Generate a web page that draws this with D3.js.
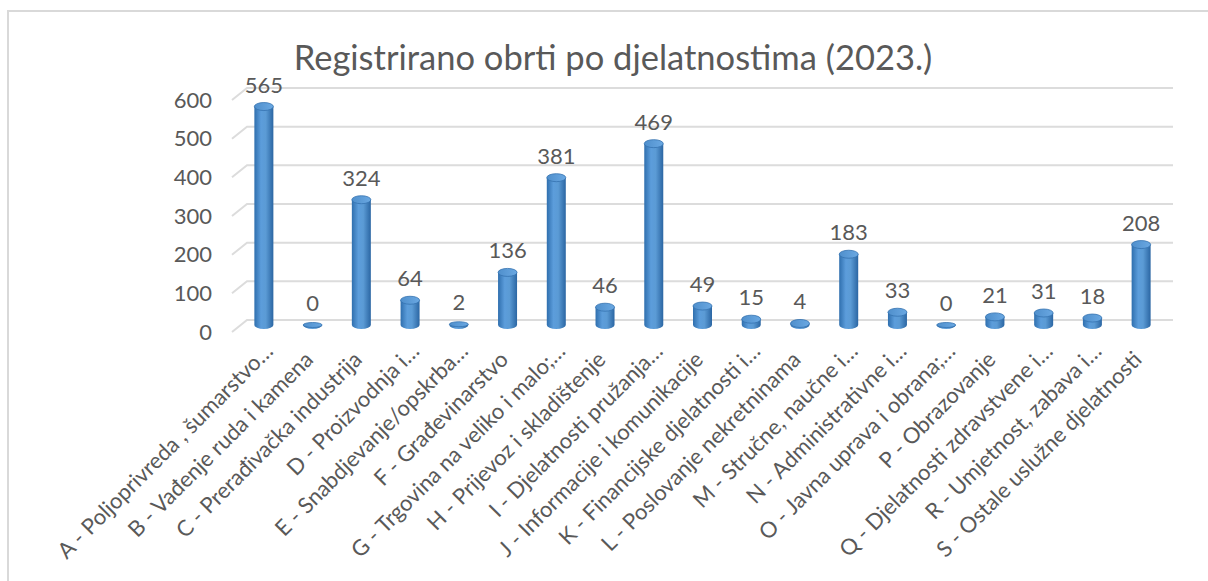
<!DOCTYPE html>
<html>
<head>
<meta charset="utf-8">
<script src="https://cdn.jsdelivr.net/npm/d3@7"></script>
<style>
  body { margin: 0; background: #fff; }
  text { font-family: Lato, "Open Sans", sans-serif; fill: #595959; }
</style>
</head>
<body>
<div id="chart"></div>
<script>
// Data
const categories = [
  "A - Poljoprivreda , šumarstvo…",
  "B - Vađenje ruda i kamena",
  "C - Prerađivačka industrija",
  "D - Proizvodnja i…",
  "E - Snabdjevanje/opskrba…",
  "F - Građevinarstvo",
  "G - Trgovina na veliko i malo;…",
  "H - Prijevoz i skladištenje",
  "I - Djelatnosti pružanja…",
  "J - Informacije i komunikacije",
  "K - Financijske djelatnosti i…",
  "L - Poslovanje nekretninama",
  "M - Stručne, naučne i…",
  "N - Administrativne i…",
  "O - Javna uprava i obrana;…",
  "P - Obrazovanje",
  "Q - Djelatnosti zdravstvene i…",
  "R - Umjetnost, zabava i…",
  "S - Ostale uslužne djelatnosti"
];
const values = [565, 0, 324, 64, 2, 136, 381, 46, 469, 49, 15, 4, 183, 33, 0, 21, 31, 18, 208];
const yTicks = [0, 100, 200, 300, 400, 500, 600];
const title = "Registrirano obrti po djelatnostima (2023.)";

// Layout constants
const config = {
  width   : 1208,
  height  : 581,
  frontX0 : 232,
  frontX1 : 1158,
  depthX  : 15,     // back wall offset
  depthY  : -12,
  backY0  : 320,
  backY1  : 88,
  barW    : 19,
  barRy   : 4
};

const svg = d3.select("#chart")
  .append("svg")
    .attr("width", config.width)
    .attr("height", config.height);

svg.append("rect")
  .attr("width", config.width).attr("height", config.height)
  .attr("fill", "#fff");

// outer chart border (runs off the page to the right / bottom)
svg.append("rect")
  .attr("x", 8).attr("y", 11)
  .attr("width", 1400).attr("height", 800)
  .attr("fill", "none")
  .attr("stroke", "#d9d9d9")
  .attr("stroke-width", 2);

// gradients
const defs = svg.append("defs");
const side = defs.append("linearGradient").attr("id", "side")
  .attr("x1", "0%").attr("x2", "100%").attr("y1", "0%").attr("y2", "0%");
side.append("stop").attr("offset", "0%").attr("stop-color", "#2f6fae");
side.append("stop").attr("offset", "35%").attr("stop-color", "#5c9ddb");
side.append("stop").attr("offset", "60%").attr("stop-color", "#5b9bd5");
side.append("stop").attr("offset", "100%").attr("stop-color", "#2b66a3");

const topG = defs.append("linearGradient").attr("id", "topg")
  .attr("x1", "0%").attr("x2", "100%").attr("y1", "0%").attr("y2", "0%");
topG.append("stop").attr("offset", "0%").attr("stop-color", "#4f8fcc");
topG.append("stop").attr("offset", "100%").attr("stop-color", "#6aa8e2");

// Scales
const yBack = d3.scaleLinear().domain([0, 600]).range([config.backY0, config.backY1]);
const yFront = d3.scaleLinear().domain([0, 600])
  .range([config.backY0 - config.depthY, config.backY1 - config.depthY]);
const yBar = d3.scaleLinear().domain([0, 600])
  .range([config.backY0 + 5, config.backY1 + 5]);
const x = d3.scaleBand().domain(categories).range([config.frontX0, config.frontX1]);
const cx = d => x(d) + x.bandwidth() / 2 + config.depthX / 2;

// Gridlines: diagonal on the side wall + line on the back wall
const grid = svg.append("g");
grid.selectAll("path")
  .data(yTicks)
  .enter()
  .append("path")
    .attr("d", function(t) {
      const xb = config.frontX0 + config.depthX;
      return "M" + config.frontX0 + "," + yFront(t) +
             "L" + xb + "," + yBack(t) +
             "L" + (config.frontX1 + config.depthX) + "," + yBack(t);
    })
    .attr("fill", "none")
    .attr("stroke", "#dcdcdc")
    .attr("stroke-width", 2);

// Y axis labels
const yAxis = svg.append("g")
  .attr("transform", "translate(212,0)")
  .call(d3.axisLeft(yFront).tickValues(yTicks).tickSize(0).tickPadding(0));
yAxis.select(".domain").remove();
yAxis.selectAll("text")
  .style("font-size", "22px")
  .style("fill", "#595959")
  .style("font-family", "Lato");

// Bars (cylinders)
const bars = svg.append("g")
  .selectAll("g")
  .data(categories)
  .enter()
  .append("g");

bars.append("path")
  .attr("d", function(d, i) {
    const c = cx(d), r = config.barW / 2, ry = config.barRy;
    const yt = yBar(values[i]), yb = yBar(0);
    return "M" + (c - r) + "," + yt +
           "L" + (c - r) + "," + yb +
           "A" + r + "," + ry + " 0 0 0 " + (c + r) + "," + yb +
           "L" + (c + r) + "," + yt + "Z";
  })
  .attr("fill", "url(#side)");

bars.append("ellipse")
  .attr("cx", d => cx(d))
  .attr("cy", (d, i) => yBar(values[i]))
  .attr("rx", config.barW / 2)
  .attr("ry", (d, i) => values[i] < 3 ? 2.5 : config.barRy)
  .attr("fill", "url(#topg)")
  .attr("stroke", "#3572b0")
  .attr("stroke-width", 0.8);

// Value labels
bars.append("text")
  .attr("x", d => cx(d))
  .attr("y", (d, i) => yBar(values[i]) - 14)
  .attr("text-anchor", "middle")
  .style("font-size", "22px")
  .text((d, i) => values[i]);

// Category labels
const xAxis = svg.append("g")
  .attr("transform", "translate(" + (config.depthX / 2 + 2) + ",361)")
  .call(d3.axisBottom(x).tickSize(0).tickPadding(0));
xAxis.select(".domain").remove();
xAxis.selectAll("text")
  .attr("y", 0)
  .attr("dy", 0)
  .attr("text-anchor", "end")
  .attr("transform", function(d) {
    const shift = d.endsWith("…") ? 12 : 0;
    return "rotate(-45) translate(" + shift + ",0)";
  })
  .style("font-size", "22px")
  .style("fill", "#595959")
  .style("font-family", "Lato");

// Title
svg.append("text")
  .attr("x", 613)
  .attr("y", 70)
  .attr("text-anchor", "middle")
  .style("font-size", "34.5px")
  .text(title);
</script>
</body>
</html>
